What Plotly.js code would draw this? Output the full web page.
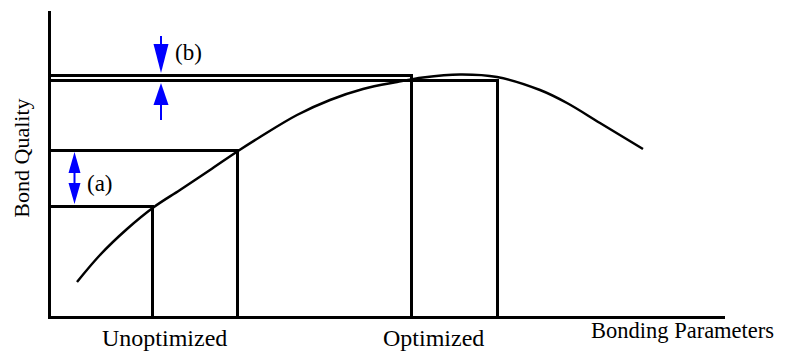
<!DOCTYPE html>
<html>
<head>
<meta charset="utf-8">
<script src="https://cdn.plot.ly/plotly-3.0.1.min.js"></script>
<style>html,body{margin:0;padding:0;background:#fff;}#chart{width:788px;height:352px;}</style>
</head>
<body>
<div id="chart"></div>
<script>
// Bond quality curve (arbitrary units)
var bondingParam = [26, 49, 76, 103, 129, 159, 187, 209, 246, 279, 312, 346, 372, 409, 446, 489, 516, 549, 592];
var bondQuality  = [34, 61, 87, 109, 126, 146, 165, 179, 201, 216, 227, 234, 238.5, 241.5, 239, 226, 213, 193, 167];

// Reference points: [x, y] where drop lines are drawn
var refX = [101.5, 186.5, 360.5, 446.5];
var refY = [109.5, 165.5, 240.5, 235.5];

// Arrow markers: (a) double arrow, (b) opposing arrows
var arrowA = {x: 23.5, top: 164, bottom: 112, head: 21, halfW: 6};
var arrowB = {x: 110, downTop: 280, downTip: 243, downHead: 29, upTip: 233, upBottom: 196, upHead: 22, halfW: 7.5};

var xLabels = ["Unoptimized", "Optimized", "Bonding Parameters"];
var xLabelPos = [0.169, 0.567, 0.937];
var xLabelY = [-0.072, -0.072, -0.047];
var xLabelSize = [24, 24, 22.5];

var FONT = "Liberation Serif";
var BLUE = "#0000ff";

var traces = [];
traces.push({x: bondingParam, y: bondQuality, mode: "lines", line: {color: "#000", width: 2.5, shape: "spline", smoothing: 1}, hoverinfo: "skip"});
for (var i = 0; i < refX.length; i++) {
  traces.push({x: [-3, refX[i], refX[i]], y: [refY[i], refY[i], 0], mode: "lines", line: {color: "#000", width: 3}, hoverinfo: "skip", cliponaxis: false});
}

function tri(cx, tipY, baseY, hw) {
  return "M" + (cx - hw) + "," + baseY + " L" + (cx + hw) + "," + baseY + " L" + cx + "," + tipY + " Z";
}
var shapes = [];
// arrow (a)
shapes.push({type: "line", xref: "x", yref: "y", x0: arrowA.x, x1: arrowA.x, y0: arrowA.top - arrowA.head, y1: arrowA.bottom + arrowA.head, line: {color: BLUE, width: 2}});
shapes.push({type: "path", xref: "x", yref: "y", path: tri(arrowA.x, arrowA.top, arrowA.top - arrowA.head, arrowA.halfW), fillcolor: BLUE, line: {width: 0}});
shapes.push({type: "path", xref: "x", yref: "y", path: tri(arrowA.x, arrowA.bottom, arrowA.bottom + arrowA.head, arrowA.halfW), fillcolor: BLUE, line: {width: 0}});
// arrows (b)
shapes.push({type: "line", xref: "x", yref: "y", x0: arrowB.x, x1: arrowB.x, y0: arrowB.downTop, y1: arrowB.downTip + arrowB.downHead, line: {color: BLUE, width: 2}});
shapes.push({type: "path", xref: "x", yref: "y", path: tri(arrowB.x, arrowB.downTip, arrowB.downTip + arrowB.downHead, arrowB.halfW), fillcolor: BLUE, line: {width: 0}});
shapes.push({type: "line", xref: "x", yref: "y", x0: arrowB.x, x1: arrowB.x, y0: arrowB.upBottom, y1: arrowB.upTip - arrowB.upHead, line: {color: BLUE, width: 2}});
shapes.push({type: "path", xref: "x", yref: "y", path: tri(arrowB.x, arrowB.upTip, arrowB.upTip - arrowB.upHead, arrowB.halfW), fillcolor: BLUE, line: {width: 0}});

var annotations = [];
for (var j = 0; j < xLabels.length; j++) {
  annotations.push({x: xLabelPos[j], y: xLabelY[j], xref: "paper", yref: "paper", text: xLabels[j], showarrow: false, xanchor: "center", yanchor: "middle", font: {family: FONT, size: xLabelSize[j], color: "#000"}});
}
annotations.push({x: 49, y: 133, xref: "x", yref: "y", text: "(a)", showarrow: false, xanchor: "center", yanchor: "middle", font: {family: FONT, size: 23, color: "#000"}});
annotations.push({x: 137.5, y: 264, xref: "x", yref: "y", text: "(b)", showarrow: false, xanchor: "center", yanchor: "middle", font: {family: FONT, size: 23, color: "#000"}});
annotations.push({x: -0.043, y: 0.516, xref: "paper", yref: "paper", text: "Bond Quality", textangle: -90, showarrow: false, xanchor: "center", yanchor: "middle", font: {family: FONT, size: 22, color: "#000"}});

var layout = {
  width: 788, height: 352,
  margin: {l: 51, r: 63, t: 11, b: 36, pad: 0},
  paper_bgcolor: "#fff", plot_bgcolor: "#fff",
  showlegend: false,
  xaxis: {range: [0, 674], showline: true, linewidth: 3, linecolor: "#000", showgrid: false, zeroline: false, showticklabels: false, ticks: "", fixedrange: true},
  yaxis: {range: [0, 305], showline: true, linewidth: 3, linecolor: "#000", showgrid: false, zeroline: false, showticklabels: false, ticks: "", fixedrange: true},
  shapes: shapes,
  annotations: annotations
};
Plotly.newPlot("chart", traces, layout, {displayModeBar: false, staticPlot: true});
</script>
</body>
</html>
